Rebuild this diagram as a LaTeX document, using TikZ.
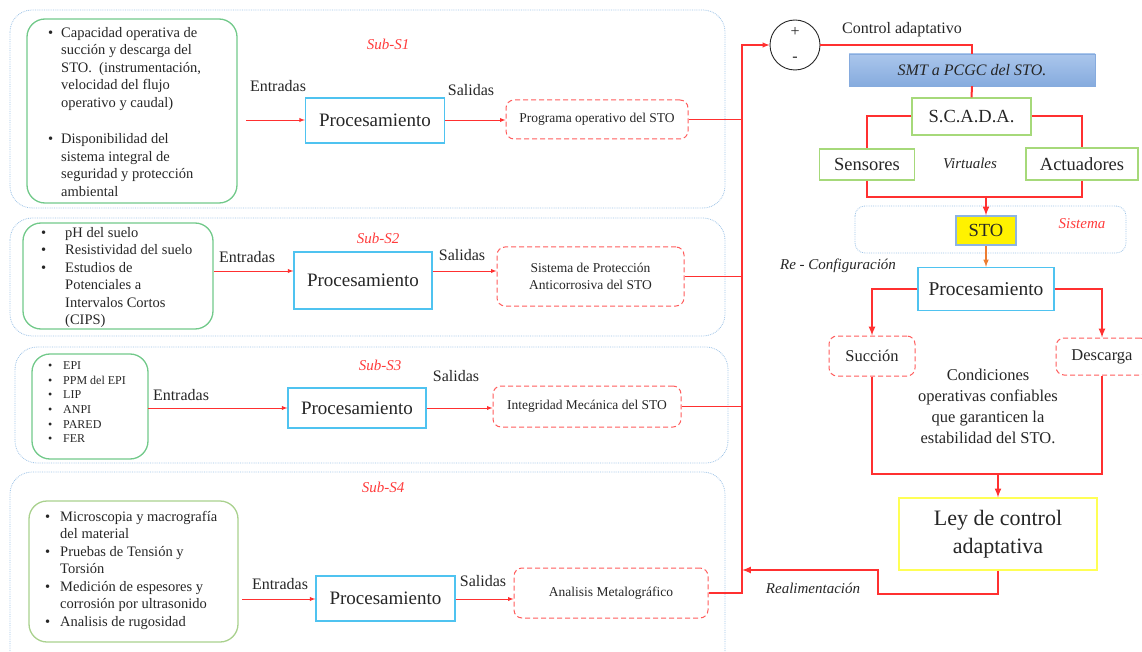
\documentclass[tikz,border=0pt]{standalone}
\usepackage{fontspec}
\setmainfont{Liberation Serif}
\definecolor{ink}{HTML}{262626}
\definecolor{subblue}{HTML}{9DC3E6}
\definecolor{ingreen}{HTML}{72C98A}
\definecolor{olgreen}{HTML}{A9D18E}
\definecolor{procblue}{HTML}{4FC3F0}
\definecolor{dashred}{HTML}{FF5C5C}
\definecolor{flowred}{HTML}{FF3030}
\definecolor{subred}{HTML}{FF3B3B}
\definecolor{boxgreen}{HTML}{A6D97A}
\definecolor{smtlight}{HTML}{AAC6EC}
\definecolor{smtdark}{HTML}{86ABDE}
\definecolor{stoline}{HTML}{8DB4E2}
\definecolor{leyyellow}{HTML}{FFFF55}
\definecolor{orangeln}{HTML}{ED7D31}
\newcommand{\fsz}[2]{\fontsize{#1}{#2}\selectfont}
% lista de vinetas: ancho de la sangria
\newenvironment{vin}[1]{\begin{tabular}{@{}p{#1pt}@{}l@{}}}{\end{tabular}}
\begin{document}
\begin{tikzpicture}[x=1pt, y=-1pt, >=latex,
    every node/.append style={text=ink, inner sep=0pt},
    outer/.style={draw=subblue, densely dotted, line width=0.8pt, rounded corners=22},
    inbox/.style={draw=ingreen, line width=1.3pt, rounded corners=18},
    items/.style={anchor=north west, font=\fsz{14.5}{17.5}},
    proc/.style={draw=procblue, line width=1.2pt, font=\fsz{19}{22}},
    outbox/.style={draw=dashred, dash pattern=on 5pt off 3pt, line width=1pt, rounded corners=8, font=\fsz{13.5}{17}, align=center},
    lbl/.style={font=\fsz{16}{18}},
    sub/.style={font=\itshape\fsz{15}{18}, text=subred},
    flow/.style={draw=flowred, line width=0.9pt, ->},
    link/.style={draw=flowred, line width=1.4pt},
    link2/.style={draw=flowred, line width=2pt},
    gbox/.style={draw=boxgreen, line width=1.2pt, font=\fsz{18.5}{21}},
  ]
  \useasboundingbox (0,0) rectangle (1142,652);

  % Sub-S1
  \draw[outer] (10,10) rectangle (725,208);
  \node[sub] (t1) at (388,44) {Sub-S1};
  \node[inbox, minimum width=210, minimum height=184] (s1in) at (132,111) {};
  \node[items] (s1txt) at (48,25) {\begin{vin}{13}
      \textbullet & Capacidad operativa de\\ & succión y descarga del\\ & STO.~ (instrumentación,\\ & velocidad del flujo\\ & operativo y caudal)\\[19pt]
      \textbullet & Disponibilidad del\\ & sistema integral de\\ & seguridad y protección\\ & ambiental
    \end{vin}};
  \node[lbl] (e1) at (278,86) {Entradas};
  \coordinate (s1a) at (246,120);
  \node[proc, minimum width=139, minimum height=45] (s1proc) at (375,120.5) {Procesamiento};
  \node[lbl] (o1) at (471,90) {Salidas};
  \node[outbox, minimum width=182, minimum height=39] (s1out) at (597,119.5) {Programa operativo del STO};
  \draw[flow] (s1a) -- (s1a -| s1proc.west);
  \draw[flow] (s1a -| s1proc.east) -- (s1a -| s1out.west);

  % Sub-S2
  \draw[outer] (10,218) rectangle (725,336);
  \node[sub] (t2) at (378,238) {Sub-S2};
  \node[inbox, minimum width=190, minimum height=106] (s2in) at (118,276) {};
  \node[items] (s2txt) at (41,225) {\begin{vin}{24}
      \textbullet & pH del suelo\\ \textbullet & Resistividad del suelo\\ \textbullet & Estudios de\\ & Potenciales a\\ & Intervalos Cortos\\ & (CIPS)
    \end{vin}};
  \node[lbl] (e2) at (247,257) {Entradas};
  \coordinate (s2a) at (214,271);
  \node[proc, minimum width=138, minimum height=57] (s2proc) at (363,280.5) {Procesamiento};
  \node[lbl] (o2) at (462,255) {Salidas};
  \node[outbox, minimum width=187, minimum height=59] (s2out) at (590.5,276.5) {Sistema de Protección\\ Anticorrosiva del STO};
  \draw[flow] (s2a) -- (s2a -| s2proc.west);
  \draw[flow] (s2a -| s2proc.east) -- (s2a -| s2out.west);

  % Sub-S3
  \draw[outer] (15,347) rectangle (728,463);
  \node[sub] (t3) at (380,365) {Sub-S3};
  \node[inbox, minimum width=116, minimum height=105] (s3in) at (90,406.5) {};
  \node[items, font=\fsz{12}{14.7}] (s3txt) at (48,359) {\begin{vin}{15}
      \textbullet & EPI\\ \textbullet & PPM del EPI\\ \textbullet & LIP\\ \textbullet & ANPI\\ \textbullet & PARED\\ \textbullet & FER
    \end{vin}};
  \node[lbl] (e3) at (181,395) {Entradas};
  \coordinate (s3a) at (148,408);
  \node[proc, minimum width=138, minimum height=40] (s3proc) at (357,408) {Procesamiento};
  \node[lbl] (o3) at (456,376) {Salidas};
  \node[outbox, minimum width=188, minimum height=41] (s3out) at (587,406.5) {Integridad Mecánica del STO};
  \draw[flow] (s3a) -- (s3a -| s3proc.west);
  \draw[flow] (s3a -| s3proc.east) -- (s3a -| s3out.west);

  % Sub-S4
  \draw[outer] (10,660) -- (10,472) -- (725,472) -- (725,660);
  \node[sub] (t4) at (383,487) {Sub-S4};
  \node[inbox, draw=olgreen, minimum width=209, minimum height=141] (s4in) at (133.5,571.5) {};
  \node[items] (s4txt) at (45,509) {\begin{vin}{15}
      \textbullet & Microscopia y macrografía\\ & del material\\ \textbullet & Pruebas de Tensión y\\ & Torsión\\ \textbullet & Medición de espesores y\\ & corrosión por ultrasonido\\ \textbullet & Analisis de rugosidad
    \end{vin}};
  \node[lbl] (e4) at (280,584) {Entradas};
  \coordinate (s4a) at (242,599);
  \node[proc, minimum width=139, minimum height=45] (s4proc) at (385.5,598.5) {Procesamiento};
  \node[lbl] (o4) at (483,581) {Salidas};
  \node[outbox, minimum width=194, minimum height=50] (s4out) at (611,593) {Analisis Metalográfico};
  \draw[flow] (s4a) -- (s4a -| s4proc.west);
  \draw[flow] (s4a -| s4proc.east) -- (s4a -| s4out.west);

  % lazo de control
  \node[circle, draw=ink, line width=0.9pt, minimum size=50] (sum) at (795,45) {};
  \node[font=\fsz{16}{18}] (plus) at (795,32) {+};
  \node[font=\fsz{16}{18}] (minus) at (795,59) {-};
  \coordinate (bus) at (742,45);
  \draw[link,->] (s4out.east) -| (bus) -- (sum.west);
  \draw[link] (s1out.east) -- (s1out.east -| bus);
  \draw[link] (s2out.east) -- (s2out.east -| bus);
  \draw[link] (s3out.east) -- (s3out.east -| bus);

  \node[lbl] (ca) at (902,30) {Control adaptativo};
  \node[minimum width=246, minimum height=32, top color=smtlight, bottom color=smtdark, draw=smtdark, font=\itshape\fsz{16}{18}] (smt) at (972,70) {SMT a PCGC del STO.};
  \node[gbox, minimum width=119, minimum height=37] (scada) at (971.5,116.5) {S.C.A.D.A.};
  \node[gbox, minimum width=95, minimum height=31] (sens) at (867,164.5) {Sensores};
  \node[gbox, minimum width=112, minimum height=32] (act) at (1082,164) {Actuadores};
  \node[font=\itshape\fsz{15}{18}] (virt) at (970,163) {Virtuales};
  \draw[link2] (sum.east) -| (smt.north);
  \draw[link2] (smt.south) -- (scada.north);
  \draw[link2] (scada.west) -| (sens.north);
  \draw[link2] (scada.east) -| (act.north);
  \draw[link2] (sens.south) -- ++(0,16) -| (act.south);

  \draw[outer, rounded corners=10] (855,206) rectangle (1126,253);
  \node[sub] (sis) at (1082,224) {Sistema};
  \node[fill=yellow, draw=stoline, line width=1.2pt, minimum width=60, minimum height=29, font=\fsz{18.5}{21}] (sto) at (986,230.5) {STO};
  \coordinate (j1) at (986,196);
  \draw[link2,->] (j1) -- (sto.north);

  \node[font=\itshape\fsz{15}{18}] (rc) at (838,266) {Re - Configuración};
  \node[proc, font=\fsz{19.5}{22}, minimum width=136, minimum height=43] (rproc) at (986,289) {Procesamiento};
  \draw[draw=orangeln, line width=1.5pt, ->] (sto.south) -- (rproc.north);
  \node[outbox, font=\fsz{16.5}{20}, minimum width=86, minimum height=40] (succ) at (872,356) {Succión};
  \node[outbox, font=\fsz{16.5}{20}, minimum width=92, minimum height=37] (desc) at (1102,356.5) {Descarga};
  \draw[link2,->] (rproc.west) -| (succ.north);
  \draw[link2,->] (rproc.east) -| (desc.north);
  \node[align=center, font=\fsz{16.5}{21}] (cond) at (988,406) {Condiciones\\ operativas confiables\\ que garanticen la\\ estabilidad del STO.};
  \draw[link2] (succ.south) -- ++(0,97) -| (desc.south);

  \node[draw=leyyellow, line width=1.2pt, minimum width=198, minimum height=72, align=center, font=\fsz{22}{28}] (ley) at (998,534) {Ley de control\\ adaptativa};
  \coordinate (j2) at (998,473);
  \draw[link2,->] (j2) -- (ley.north);
  \coordinate (rf) at (878,570);
  \draw[link2,->] (ley.south) -- ++(0,23) -| (rf) -- (rf -| bus);
  \node[font=\itshape\fsz{15}{18}] (real) at (813,588) {Realimentación};
\end{tikzpicture}
\end{document}
